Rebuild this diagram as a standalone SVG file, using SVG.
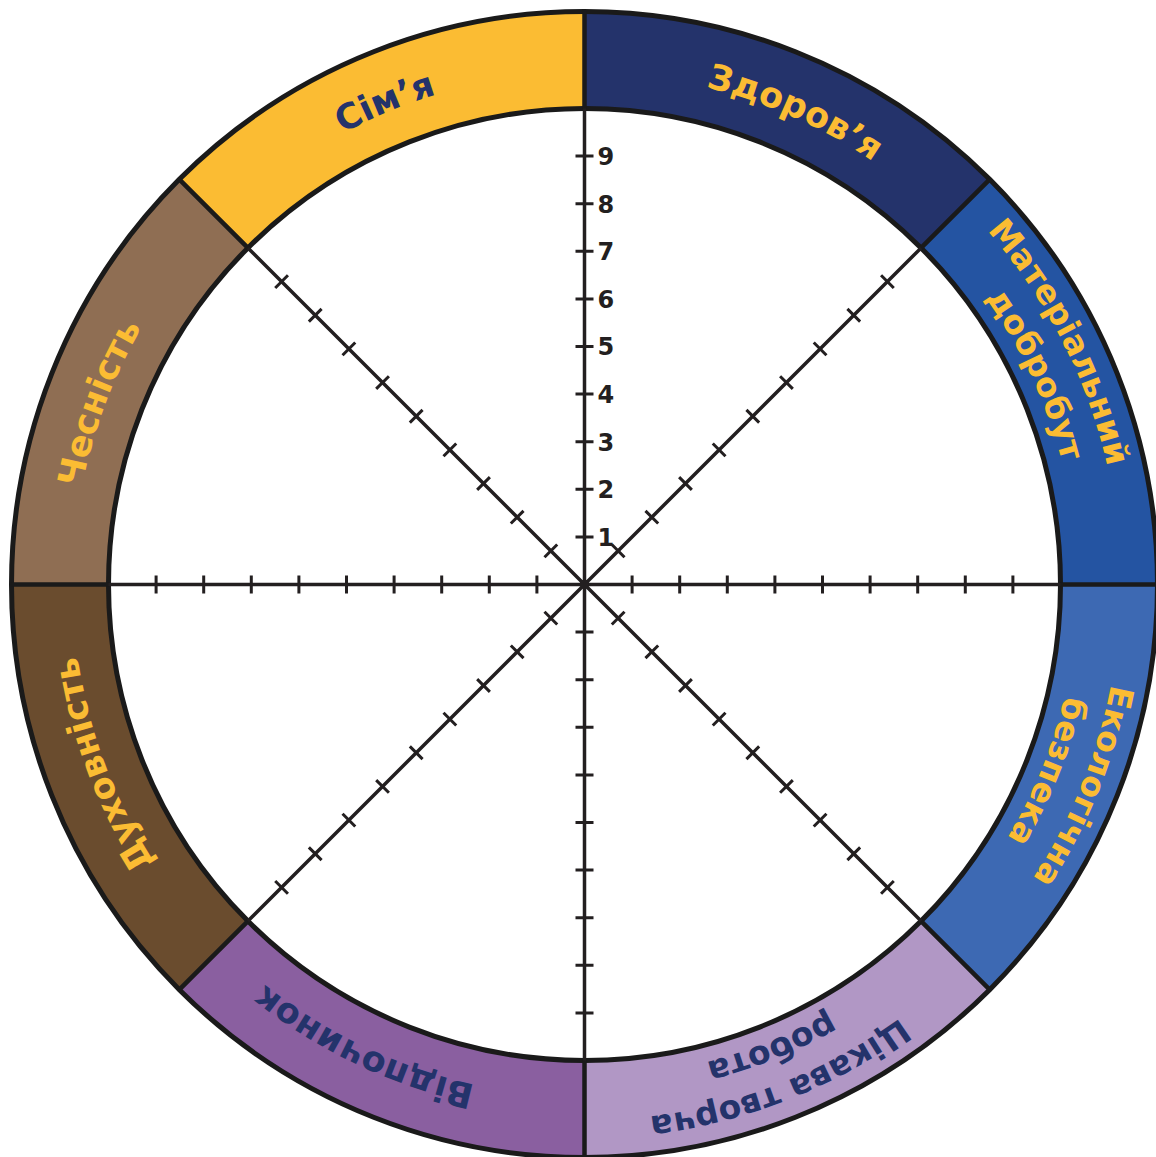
<svg xmlns="http://www.w3.org/2000/svg" width="1156" height="1157" viewBox="0 0 1156 1157">
<style>
.lbl{font-family:"DejaVu Sans","Liberation Sans",sans-serif;font-weight:bold;}
.y{fill:#FBBC33}
.n{fill:#24336B}
.s1{font-size:35px}
.s2{font-size:33px}
.num{font-family:"DejaVu Sans","Liberation Sans",sans-serif;font-weight:bold;font-size:24px;fill:#231F20}
.edge{fill:none;stroke:#1A1A1A;stroke-width:5}
.div{fill:none;stroke:#1A1A1A;stroke-width:4.5}
.axis{stroke:#231F20;stroke-width:3.5;fill:none}
.tick{stroke:#231F20;stroke-width:3;fill:none}
</style>
<defs>
<path id="p-sim" d="M -507.62,-66.83 A 512 512 0 0 1 311.69,-406.20"/>
<path id="p-zdor" d="M -300.95,-414.22 A 512 512 0 0 1 509.19,-53.52"/>
<path id="p-mat1" d="M 28.05,-535.27 A 536 536 0 0 1 449.53,291.93"/>
<path id="p-mat2" d="M 42.97,-491.12 A 493 493 0 0 1 403.84,282.77"/>
<path id="p-eko1" d="M 422.37,-329.99 A 536 536 0 0 1 74.60,530.78"/>
<path id="p-eko2" d="M 388.49,-303.52 A 493 493 0 0 1 68.61,488.20"/>
<path id="p-tsik1" d="M 530.11,79.23 A 536 536 0 0 1 -333.67,419.48"/>
<path id="p-tsik2" d="M 488.20,68.61 A 493 493 0 0 1 -303.52,388.49"/>
<path id="p-vidp" d="M 290.00,421.95 A 512 512 0 0 1 -510.42,40.17"/>
<path id="p-dukh" d="M -84.51,504.98 A 512 512 0 0 1 -395.07,-325.67"/>
<path id="p-ches" d="M -395.07,325.67 A 512 512 0 0 1 -84.51,-504.98"/>
<path id="arm" class="tick" d="M -9,-47.6 h18 M -9,-95.2 h18 M -9,-142.8 h18 M -9,-190.4 h18 M -9,-238 h18 M -9,-285.6 h18 M -9,-333.2 h18 M -9,-380.8 h18 M -9,-428.4 h18"/>
</defs>
<rect width="1156" height="1157" fill="#ffffff"/>
<g transform="translate(584.5,584.5)">
<g id="node-zdorovia">
<path fill="#24336B" d="M 0,-573 A 573 573 0 0 1 405.17,-405.17 L 336.58,-336.58 A 476 476 0 0 0 0,-476 Z"/>
<text class="lbl s1 y"><textPath href="#p-zdor" startOffset="50%" text-anchor="middle">Здоров’я</textPath></text>
</g>
<g id="node-materialnyi">
<path fill="#2454A2" d="M 405.17,-405.17 A 573 573 0 0 1 573,0 L 476,0 A 476 476 0 0 0 336.58,-336.58 Z"/>
<text class="lbl s2 y"><textPath href="#p-mat1" startOffset="50%" text-anchor="middle">Матеріальний</textPath></text>
<text class="lbl s2 y"><textPath href="#p-mat2" startOffset="50%" text-anchor="middle">добробут</textPath></text>
</g>
<g id="node-ekolohichna">
<path fill="#3D69B3" d="M 573,0 A 573 573 0 0 1 405.17,405.17 L 336.58,336.58 A 476 476 0 0 0 476,0 Z"/>
<text class="lbl s2 y"><textPath href="#p-eko1" startOffset="50%" text-anchor="middle">Екологічна</textPath></text>
<text class="lbl s2 y"><textPath href="#p-eko2" startOffset="50%" text-anchor="middle">безпека</textPath></text>
</g>
<g id="node-tsikava">
<path fill="#B197C5" d="M 405.17,405.17 A 573 573 0 0 1 0,573 L 0,476 A 476 476 0 0 0 336.58,336.58 Z"/>
<text class="lbl s2 n"><textPath href="#p-tsik1" startOffset="50%" text-anchor="middle">Цікава творча</textPath></text>
<text class="lbl s2 n"><textPath href="#p-tsik2" startOffset="50%" text-anchor="middle">робота</textPath></text>
</g>
<g id="node-vidpochynok">
<path fill="#8A5FA0" d="M 0,573 A 573 573 0 0 1 -405.17,405.17 L -336.58,336.58 A 476 476 0 0 0 0,476 Z"/>
<text class="lbl s1 n"><textPath href="#p-vidp" startOffset="50%" text-anchor="middle">Відпочинок</textPath></text>
</g>
<g id="node-dukhovnist">
<path fill="#6A4C2E" d="M -405.17,405.17 A 573 573 0 0 1 -573,0 L -476,0 A 476 476 0 0 0 -336.58,336.58 Z"/>
<text class="lbl s1 y"><textPath href="#p-dukh" startOffset="50%" text-anchor="middle">Духовність</textPath></text>
</g>
<g id="node-chesnist">
<path fill="#8F6E53" d="M -573,0 A 573 573 0 0 1 -405.17,-405.17 L -336.58,-336.58 A 476 476 0 0 0 -476,0 Z"/>
<text class="lbl s1 y"><textPath href="#p-ches" startOffset="50%" text-anchor="middle">Чесність</textPath></text>
</g>
<g id="node-simia">
<path fill="#FBBC33" d="M -405.17,-405.17 A 573 573 0 0 1 0,-573 L 0,-476 A 476 476 0 0 0 -336.58,-336.58 Z"/>
<text class="lbl s1 n"><textPath href="#p-sim" startOffset="50%" text-anchor="middle">Сім’я</textPath></text>
</g>
<g id="connectors">
<circle class="edge" r="573"/>
<circle class="edge" r="476"/>
<path class="div" d="M 0,-573 V -476 M 0,573 V 476 M 573,0 H 476 M -573,0 H -476 M 405.17,-405.17 L 336.58,-336.58 M -405.17,-405.17 L -336.58,-336.58 M 405.17,405.17 L 336.58,336.58 M -405.17,405.17 L -336.58,336.58"/>
<path class="axis" d="M 0,-476 V 476 M -476,0 H 476 M -336.58,-336.58 L 336.58,336.58 M 336.58,-336.58 L -336.58,336.58"/>
<use href="#arm"/>
<use href="#arm" transform="rotate(45)"/>
<use href="#arm" transform="rotate(90)"/>
<use href="#arm" transform="rotate(135)"/>
<use href="#arm" transform="rotate(180)"/>
<use href="#arm" transform="rotate(225)"/>
<use href="#arm" transform="rotate(270)"/>
<use href="#arm" transform="rotate(315)"/>
</g>
<g id="scale">
<text class="num" x="13" y="-38.8">1</text>
<text class="num" x="13" y="-86.4">2</text>
<text class="num" x="13" y="-134">3</text>
<text class="num" x="13" y="-181.6">4</text>
<text class="num" x="13" y="-229.2">5</text>
<text class="num" x="13" y="-276.8">6</text>
<text class="num" x="13" y="-324.4">7</text>
<text class="num" x="13" y="-372">8</text>
<text class="num" x="13" y="-419.6">9</text>
</g>
</g>
</svg>
